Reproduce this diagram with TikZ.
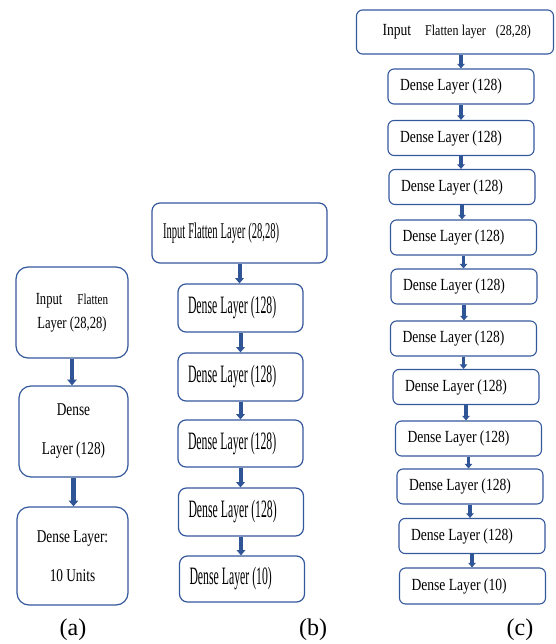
\documentclass[tikz,border=0pt]{standalone}
\usepackage{fontspec}
\setmainfont{Liberation Serif}
\newfontfamily\fa[FakeStretch=0.74]{Liberation Serif}
\newfontfamily\fb[FakeStretch=0.47]{Liberation Serif}
\newfontfamily\fc[FakeStretch=0.8]{Liberation Serif}
\newcommand\fonta[2]{\fa\fontsize{#1}{#2}\selectfont\spaceskip=3.3pt\relax}
\newcommand\fontb[1]{\fb\fontsize{#1}{28}\selectfont\spaceskip=3pt\relax}
\newcommand\fontc{\fc\fontsize{17}{20}\selectfont\spaceskip=3.4pt\relax}
\usetikzlibrary{arrows.meta}
\definecolor{boxline}{RGB}{52,88,156}
\definecolor{arrowblue}{RGB}{47,85,151}
\tikzset{
	boxa/.style={draw=boxline, line width=1.2pt, rounded corners=12pt, align=flush center, inner sep=0pt, font={\fonta{18}{39}}},
	boxb/.style={draw=boxline, line width=1.2pt, rounded corners=8pt, minimum height=48pt, text width=105pt, inner xsep=10pt, align=flush left, font={\fontb{25}}},
	boxc/.style={draw=boxline, line width=1.1pt, rounded corners=6pt, minimum height=35pt, text width=122pt, inner xsep=12pt, align=flush left, font=\fontc},
	flow/.style={draw=arrowblue, line width=#1, -{Triangle[width=0pt 2.1,length=0pt 1.3]}},
	caption/.style={font=\fontsize{24}{28}\selectfont}
}
\begin{document}
\begin{tikzpicture}[x=1pt,y=-1pt]
	\useasboundingbox (0,0) rectangle (555,644);
	% (a)
	\node[boxa, minimum width=112pt, minimum height=91pt, font={\fonta{17}{24}}] (a1) at (72,312.5) {Input\hspace{15pt}{\fontsize{15}{15}\selectfont Flatten}\\Layer (28,28)};
	\node[boxa, minimum width=109pt, minimum height=91pt] (a2) at (73.5,431.5) {Dense\\Layer (128)};
	\node[boxa, minimum width=111pt, minimum height=98pt] (a3) at (72.5,556) {Dense Layer:\\10 Units};
	\draw[flow=4.5pt] (a1.south) -- (a1.south |- a2.north);
	\draw[flow=4.5pt] (a2.south) -- (a2.south |- a3.north);
	\node[caption] (capa) at (73,630) {(a)};
	% (b)
	\node[boxb, minimum height=60pt, text width=153pt, inner xsep=11pt, font={\fontb{22.5}}] (b1) at (239.5,233) {Input Flatten Layer (28,28)};
	\node[boxb] (b2) at (240.5,308) {Dense Layer (128)};
	\node[boxb] (b3) at (240.5,377) {Dense Layer (128)};
	\node[boxb, minimum height=47pt] (b4) at (240.5,443.5) {Dense Layer (128)};
	\node[boxb] (b5) at (241,512) {Dense Layer (128)};
	\node[boxb, minimum height=46pt] (b6) at (242,579) {Dense Layer (10)};
	\draw[flow=4pt] (b1.south) -- (b1.south |- b2.north);
	\draw[flow=4pt] (b2.south) -- (b2.south |- b3.north);
	\draw[flow=4pt] (b3.south) -- (b3.south |- b4.north);
	\draw[flow=4pt] (b4.south) -- (b4.south |- b5.north);
	\draw[flow=4pt] (b5.south) -- (b5.south |- b6.north);
	\node[caption] (capb) at (313,630) {(b)};
	% (c)
	\node[boxc, minimum height=44pt, text width=171pt, inner xsep=13pt] (c1) at (455,32) {\hspace*{13pt}Input\hspace{14pt}{\fontsize{15}{15}\selectfont Flatten layer\hspace{10pt}(28,28)}};
	\node[boxc] (c2) at (461,86.5) {Dense Layer (128)};
	\node[boxc] (c3) at (461,138) {Dense Layer (128)};
	\node[boxc] (c4) at (462,187) {Dense Layer (128)};
	\node[boxc] (c5) at (463.5,237.5) {Dense Layer (128)};
	\node[boxc] (c6) at (464,286.5) {Dense Layer (128)};
	\node[boxc] (c7) at (463.5,338.5) {Dense Layer (128)};
	\node[boxc] (c8) at (466,387) {Dense Layer (128)};
	\node[boxc] (c9) at (468.5,438.5) {Dense Layer (128)};
	\node[boxc] (c10) at (470,486.5) {Dense Layer (128)};
	\node[boxc] (c11) at (472,536) {Dense Layer (128)};
	\node[boxc, minimum height=36pt] (c12) at (472.5,586) {Dense Layer (10)};
	\draw[flow=3.5pt] (c1.south -| c2.north) -- (c2.north);
	\draw[flow=3.5pt] (c2.south) -- (c2.south |- c3.north);
	\draw[flow=3.5pt] (c3.south) -- (c3.south |- c4.north);
	\draw[flow=3.5pt] (c4.south) -- (c4.south |- c5.north);
	\draw[flow=3.5pt] (c5.south) -- (c5.south |- c6.north);
	\draw[flow=3.5pt] (c6.south) -- (c6.south |- c7.north);
	\draw[flow=3.5pt] (c7.south) -- (c7.south |- c8.north);
	\draw[flow=3.5pt] (c8.south) -- (c8.south |- c9.north);
	\draw[flow=3.5pt] (c9.south) -- (c9.south |- c10.north);
	\draw[flow=3.5pt] (c10.south) -- (c10.south |- c11.north);
	\draw[flow=3.5pt] (c11.south) -- (c11.south |- c12.north);
	\node[caption] (capc) at (520,630) {(c)};
\end{tikzpicture}
\end{document}
